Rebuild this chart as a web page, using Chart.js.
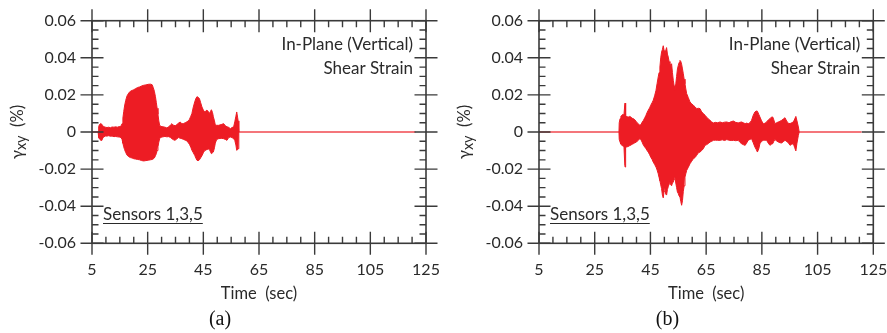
<!DOCTYPE html>
<html><head><meta charset="utf-8">
<script src="https://cdn.jsdelivr.net/npm/chart.js@4.4.1/dist/chart.umd.min.js"></script>
<style>
html,body{margin:0;padding:0;background:#fff;overflow:hidden;width:887px;height:333px;}
canvas{position:absolute;top:0;}
#ca{left:0;} #cb{left:443px;}
</style></head><body>
<canvas id="ca" width="443" height="333"></canvas>
<canvas id="cb" width="450" height="333"></canvas>
<script>
// ---- tick labels ----
const xTickValues = [5, 25, 45, 65, 85, 105, 125];
const yTickValues = [-0.06, -0.04, -0.02, 0, 0.02, 0.04, 0.06];
const xMinorStep = 5;
const yMinorStep = 0.005;

// ---- panel (a): envelope of shear strain record ----
const timeA = [7.2,7.4,7.7,8.1,8.5,8.9,9.3,9.8,10.4,11.0,11.6,12.2,12.9,13.5,14.1,14.8,15.4,15.8,16.1,16.4,16.7,17.1,17.6,18.2,18.8,19.4,20.0,20.7,21.4,22.1,22.8,23.6,24.4,25.2,26.0,26.6,27.0,27.4,27.8,28.1,28.4,28.7,29.0,29.3,29.8,30.5,31.2,31.9,32.6,33.2,33.7,34.3,34.9,35.5,36.1,36.7,37.3,37.9,38.5,39.1,39.6,40.0,40.5,40.9,41.4,41.9,42.3,42.7,43.1,43.6,44.0,44.5,45.0,45.5,45.9,46.3,46.8,47.2,47.6,47.9,48.3,48.6,49.0,49.3,49.8,50.5,51.4,52.3,52.9,53.5,54.1,54.7,55.3,55.9,56.3,56.7,57.0,57.3,57.5,57.7,57.8];
const upperA = [0,0.0030,0.0040,0.0046,0.0042,0.0034,0.0028,0.0026,0.0024,0.0026,0.0023,0.0027,0.0026,0.0028,0.0026,0.0029,0.0031,0.0045,0.0075,0.0110,0.0140,0.0170,0.0195,0.0210,0.0220,0.0224,0.0228,0.0234,0.0240,0.0243,0.0248,0.0252,0.0254,0.0257,0.0258,0.0255,0.0240,0.0220,0.0190,0.0160,0.0128,0.0095,0.0060,0.0036,0.0030,0.0028,0.0026,0.0022,0.0028,0.0038,0.0045,0.0036,0.0034,0.0040,0.0048,0.0054,0.0044,0.0046,0.0050,0.0055,0.0060,0.0068,0.0085,0.0100,0.0135,0.0162,0.0180,0.0190,0.0188,0.0180,0.0160,0.0135,0.0118,0.0108,0.0114,0.0118,0.0110,0.0100,0.0112,0.0120,0.0105,0.0082,0.0060,0.0038,0.0036,0.0036,0.0040,0.0045,0.0034,0.0028,0.0025,0.0018,0.0024,0.0028,0.0055,0.0085,0.0108,0.0080,0.0060,0.0020,0];
const lowerA = [0,-0.0030,-0.0038,-0.0044,-0.0046,-0.0032,-0.0026,-0.0022,-0.0022,-0.0020,-0.0023,-0.0022,-0.0025,-0.0024,-0.0026,-0.0027,-0.0030,-0.0040,-0.0060,-0.0080,-0.0095,-0.0110,-0.0125,-0.0133,-0.0138,-0.0140,-0.0144,-0.0146,-0.0148,-0.0150,-0.0154,-0.0156,-0.0154,-0.0152,-0.0150,-0.0148,-0.0145,-0.0140,-0.0128,-0.0117,-0.0100,-0.0080,-0.0055,-0.0036,-0.0028,-0.0026,-0.0024,-0.0026,-0.0025,-0.0030,-0.0036,-0.0042,-0.0045,-0.0036,-0.0030,-0.0034,-0.0036,-0.0040,-0.0044,-0.0048,-0.0058,-0.0066,-0.0082,-0.0098,-0.0112,-0.0126,-0.0140,-0.0152,-0.0155,-0.0150,-0.0140,-0.0128,-0.0112,-0.0100,-0.0098,-0.0094,-0.0092,-0.0095,-0.0108,-0.0117,-0.0112,-0.0108,-0.0085,-0.0060,-0.0040,-0.0036,-0.0034,-0.0036,-0.0040,-0.0045,-0.0030,-0.0027,-0.0030,-0.0036,-0.0045,-0.0070,-0.0099,-0.0095,-0.0090,-0.0040,0];
const zeroSpanA = [5, 121.2];

// ---- panel (b) ----
const timeB = [33.7,33.8,34.1,34.4,34.7,35.1,35.5,35.8,35.9,36.0,36.2,36.6,37.1,37.5,37.9,38.4,38.9,39.4,40.0,40.6,41.2,41.6,42.0,42.5,43.0,43.4,43.8,44.2,44.7,45.1,45.6,46.0,46.5,47.0,47.4,47.8,48.1,48.4,48.7,49.0,49.3,49.6,49.9,50.2,50.5,50.8,51.1,51.4,51.7,52.0,52.3,52.6,52.9,53.2,53.5,53.8,54.1,54.4,54.7,55.0,55.3,55.6,55.9,56.2,56.5,56.8,57.1,57.4,57.7,58.0,58.6,59.2,59.8,60.4,61.0,61.6,62.2,62.8,63.4,64.0,64.6,65.2,65.8,66.4,67.0,67.6,68.3,69.1,70.0,70.8,71.6,72.4,73.2,74.0,74.8,75.6,76.5,77.1,77.7,78.3,79.0,79.5,80.1,80.7,81.3,81.9,82.5,83.0,83.4,83.9,84.3,84.9,85.5,86.1,86.7,87.3,87.9,88.4,88.9,89.3,89.7,90.3,90.9,91.5,92.1,92.7,93.3,93.7,94.1,94.6,95.1,95.7,96.3,96.8,97.2,97.6,98.1,98.4];
const upperB = [0,0.0050,0.0072,0.0085,0.0090,0.0095,0.0092,0.0150,0.0156,0.0100,0.0088,0.0082,0.0081,0.0084,0.0082,0.0074,0.0072,0.0066,0.0054,0.0045,0.0036,0.0040,0.0052,0.0063,0.0078,0.0090,0.0105,0.0117,0.0130,0.0144,0.0158,0.0171,0.0195,0.0225,0.0262,0.0297,0.0320,0.0350,0.0400,0.0431,0.0445,0.0465,0.0440,0.0420,0.0440,0.0455,0.0420,0.0404,0.0380,0.0368,0.0360,0.0368,0.0320,0.0279,0.0250,0.0225,0.0260,0.0300,0.0340,0.0359,0.0375,0.0386,0.0380,0.0365,0.0340,0.0314,0.0285,0.0260,0.0232,0.0207,0.0185,0.0162,0.0152,0.0144,0.0136,0.0126,0.0128,0.0126,0.0108,0.0100,0.0090,0.0080,0.0070,0.0063,0.0054,0.0049,0.0052,0.0050,0.0054,0.0050,0.0053,0.0054,0.0050,0.0056,0.0059,0.0052,0.0049,0.0052,0.0054,0.0050,0.0045,0.0048,0.0045,0.0050,0.0063,0.0090,0.0108,0.0113,0.0112,0.0095,0.0081,0.0060,0.0045,0.0047,0.0054,0.0065,0.0072,0.0080,0.0081,0.0065,0.0045,0.0050,0.0054,0.0058,0.0063,0.0070,0.0077,0.0065,0.0054,0.0047,0.0045,0.0050,0.0054,0.0070,0.0084,0.0060,0.0027,0];
const lowerB = [0,-0.0040,-0.0054,-0.0065,-0.0072,-0.0075,-0.0078,-0.0180,-0.0189,-0.0110,-0.0082,-0.0080,-0.0078,-0.0074,-0.0072,-0.0066,-0.0063,-0.0058,-0.0054,-0.0045,-0.0036,-0.0042,-0.0054,-0.0072,-0.0082,-0.0090,-0.0100,-0.0108,-0.0122,-0.0135,-0.0148,-0.0162,-0.0175,-0.0189,-0.0205,-0.0225,-0.0245,-0.0262,-0.0285,-0.0305,-0.0340,-0.0355,-0.0320,-0.0300,-0.0335,-0.0340,-0.0310,-0.0295,-0.0280,-0.0272,-0.0285,-0.0290,-0.0275,-0.0270,-0.0255,-0.0243,-0.0275,-0.0300,-0.0325,-0.0332,-0.0345,-0.0350,-0.0375,-0.0395,-0.0370,-0.0320,-0.0290,-0.0243,-0.0225,-0.0207,-0.0190,-0.0171,-0.0158,-0.0144,-0.0138,-0.0126,-0.0112,-0.0108,-0.0100,-0.0090,-0.0072,-0.0068,-0.0062,-0.0054,-0.0050,-0.0045,-0.0044,-0.0045,-0.0045,-0.0042,-0.0046,-0.0041,-0.0044,-0.0046,-0.0045,-0.0047,-0.0045,-0.0055,-0.0063,-0.0068,-0.0072,-0.0060,-0.0045,-0.0040,-0.0036,-0.0058,-0.0081,-0.0095,-0.0108,-0.0090,-0.0063,-0.0050,-0.0045,-0.0044,-0.0045,-0.0060,-0.0072,-0.0066,-0.0063,-0.0050,-0.0041,-0.0048,-0.0054,-0.0058,-0.0059,-0.0052,-0.0045,-0.0048,-0.0054,-0.0060,-0.0072,-0.0066,-0.0063,-0.0085,-0.0102,-0.0060,-0.0018,0];
const zeroSpanB = [5, 120.8];

const RED = '#ed1c24';
const INK = '#2a2a2a';
const AXIS = '#3a3a3a';

const decor = {
  id: 'decor',
  afterDraw(chart, args, o) {
    const ctx = chart.ctx;
    const {left, right, top, bottom} = chart.chartArea;
    const xs = chart.scales.x, ys = chart.scales.y;
    ctx.save();
    ctx.strokeStyle = AXIS;
    ctx.lineWidth = 1.6;
    ctx.strokeRect(left, top, right - left, bottom - top);
    ctx.lineWidth = 1.4;
    ctx.beginPath();
    const big = 11.5, small = 6.5;
    for (const v of xTickValues) {
      const p = xs.getPixelForValue(v);
      ctx.moveTo(p, bottom - big); ctx.lineTo(p, bottom + big);
      ctx.moveTo(p, top - big); ctx.lineTo(p, top + big);
    }
    for (const v of yTickValues) {
      const p = ys.getPixelForValue(v);
      ctx.moveTo(left - big, p); ctx.lineTo(left + big, p);
      ctx.moveTo(right - big, p); ctx.lineTo(right + big, p);
    }
    const xmin = xTickValues[0], xmax = xTickValues[xTickValues.length - 1];
    for (let v = xmin; v <= xmax + 1e-9; v += xMinorStep) {
      if (xTickValues.includes(v)) continue;
      const p = xs.getPixelForValue(v);
      ctx.moveTo(p, bottom); ctx.lineTo(p, bottom - small);
      ctx.moveTo(p, top); ctx.lineTo(p, top + small);
    }
    const ymin = yTickValues[0], ymax = yTickValues[yTickValues.length - 1];
    const n = Math.round((ymax - ymin) / yMinorStep);
    for (let i = 0; i <= n; i++) {
      if (i % 4 === 0) continue;
      const p = ys.getPixelForValue(ymin + i * yMinorStep);
      ctx.moveTo(left, p); ctx.lineTo(left + small, p);
      ctx.moveTo(right, p); ctx.lineTo(right - small, p);
    }
    ctx.stroke();

    // annotations
    ctx.fillStyle = INK;
    ctx.font = '17px Lato';
    ctx.textAlign = 'right';
    ctx.textBaseline = 'alphabetic';
    ctx.fillText('In-Plane (Vertical)', right - 13, 49.5);
    ctx.fillText('Shear Strain', right - 13, 74);
    ctx.textAlign = 'left';
    const sx = left + 11;
    ctx.fillText('Sensors 1,3,5', sx, 220);
    const w = ctx.measureText('Sensors 1,3,5').width;
    ctx.strokeStyle = INK; ctx.lineWidth = 1.2;
    ctx.beginPath(); ctx.moveTo(sx, 223.5); ctx.lineTo(sx + w, 223.5); ctx.stroke();

    // y title with subscript
    ctx.save();
    ctx.translate(left - 74, (top + bottom) / 2);
    ctx.rotate(-Math.PI / 2);
    ctx.textBaseline = 'middle';
    ctx.textAlign = 'left';
    const f1 = '16.5px Lato', f2 = '14.5px Lato';
    ctx.font = f1; const wg = ctx.measureText('γ').width; const wp = ctx.measureText('  (%)').width;
    ctx.font = f2; const wx = ctx.measureText('xy').width;
    const x0 = -(wg + wx + wp) / 2;
    ctx.font = f1; ctx.fillText('γ', x0, 0);
    ctx.font = f2; ctx.fillText('xy', x0 + wg, 3);
    ctx.font = f1; ctx.fillText('  (%)', x0 + wg + wx, 0);
    ctx.restore();

    // caption
    ctx.fillStyle = '#111';
    ctx.font = '20px "Liberation Serif"';
    ctx.textAlign = 'center';
    ctx.textBaseline = 'middle';
    ctx.fillText(o.caption, o.captionX, 320);
    ctx.restore();
  }
};

function pts(t, v) { return t.map((x, i) => ({x: x, y: v[i]})); }

function makeChart(id, W, plotLeft, plotRight, times, up, lo, zeroSpan, caption, captionX) {
  const plotTop = 20.7, plotBottom = 243.3, H = 333;
  return new Chart(document.getElementById(id), {
    type: 'line',
    data: {
      datasets: [
        {data: pts(times, up), borderColor: RED, backgroundColor: RED, borderWidth: 1, fill: '+1', pointRadius: 0, tension: 0},
        {data: pts(times, lo), borderColor: RED, backgroundColor: RED, borderWidth: 1, fill: false, pointRadius: 0, tension: 0},
        {data: pts(zeroSpan, [0, 0]), borderColor: 'rgba(237,28,36,0.8)', borderWidth: 1.5, fill: false, pointRadius: 0, tension: 0}
      ]
    },
    options: {
      responsive: false,
      animation: false,
      devicePixelRatio: 1,
      layout: {padding: {left: 0, right: W - plotRight, top: plotTop, bottom: 0}},
      plugins: {legend: {display: false}, tooltip: {enabled: false}, decor: {caption: caption, captionX: captionX}},
      scales: {
        x: {
          type: 'linear', min: xTickValues[0], max: xTickValues[xTickValues.length - 1],
          grid: {display: false, drawTicks: true, tickLength: 17}, border: {display: false},
          afterBuildTicks: s => { s.ticks = xTickValues.map(v => ({value: v})); },
          afterFit: s => { s.height = H - plotBottom; s.paddingLeft = 0; s.paddingRight = 0; },
          ticks: {color: INK, font: {family: 'Lato', size: 16}, padding: 0, maxRotation: 0, autoSkip: false},
          title: {display: true, text: 'Time  (sec)', color: INK, font: {family: 'Lato', size: 16.5}, padding: {top: 0, bottom: 29}}
        },
        y: {
          type: 'linear', min: yTickValues[0], max: yTickValues[yTickValues.length - 1],
          grid: {display: false, drawTicks: true, tickLength: 16}, border: {display: false},
          afterBuildTicks: s => { s.ticks = yTickValues.map(v => ({value: v})); },
          afterFit: s => { s.width = plotLeft; s.paddingTop = 0; s.paddingBottom = 0; },
          ticks: {color: INK, font: {family: 'Lato', size: 16}, padding: 0,
                  callback: v => Math.abs(v) < 1e-9 ? '0' : v.toFixed(2)}
        }
      }
    },
    plugins: [decor]
  });
}

makeChart('ca', 443, 92, 426, timeA, upperA, lowerA, zeroSpanA, '(a)', 220);
makeChart('cb', 450, 96, 430.3, timeB, upperB, lowerB, zeroSpanB, '(b)', 224.5);
</script>
</body></html>
